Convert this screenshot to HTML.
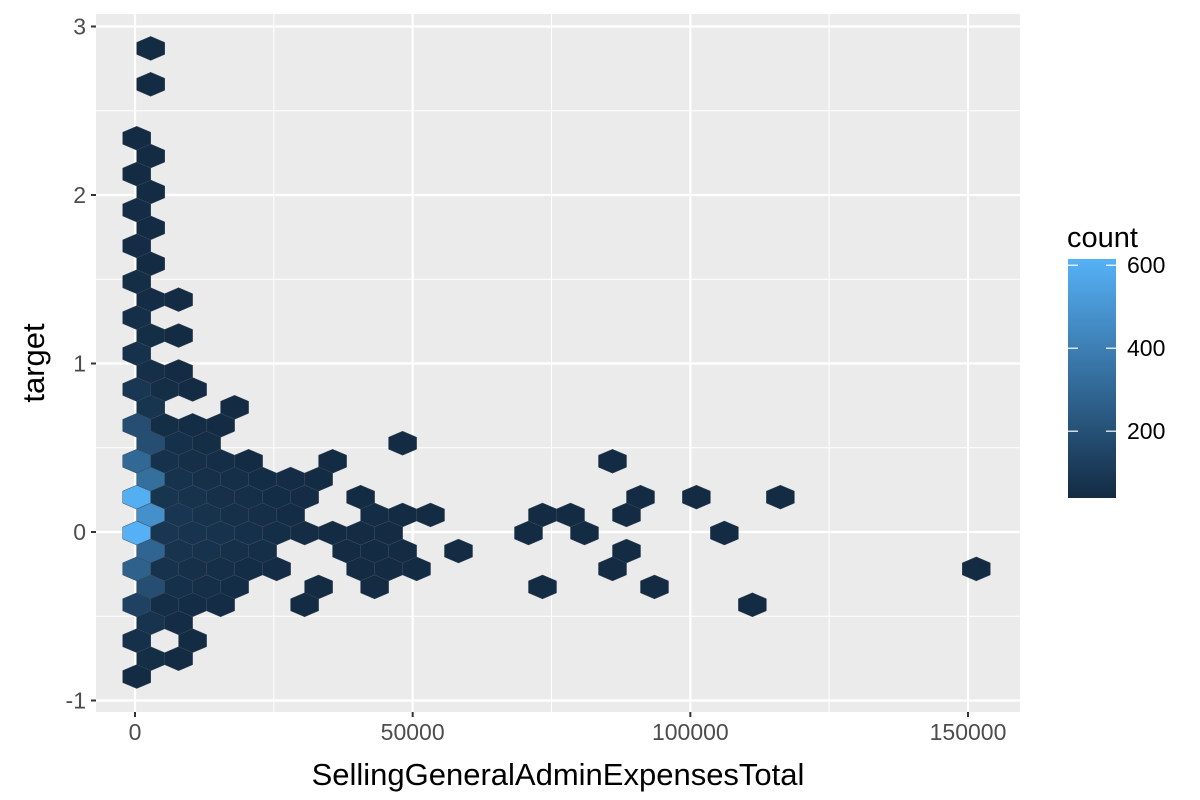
<!DOCTYPE html>
<html><head><meta charset="utf-8"><style>
html,body{margin:0;padding:0;background:#fff;}
svg{display:block;font-family:"Liberation Sans",Arial,sans-serif;}
</style></head><body>
<svg id="chart" width="1200" height="800">
<defs><linearGradient id="lg" x1="0" y1="1" x2="0" y2="0"><stop offset="0" stop-color="#132B43"/><stop offset="1" stop-color="#56B1F7"/></linearGradient></defs>
<rect x="96" y="14" width="924" height="698" fill="#EBEBEB"/>
<g id="grid"></g><g id="hexes"></g><g id="axes"></g>
<text x="558" y="785" text-anchor="middle" font-size="31" fill="#000">SellingGeneralAdminExpensesTotal</text>
<text transform="translate(44,363) rotate(-90)" text-anchor="middle" font-size="31" fill="#000">target</text>
<g>
<text x="1067" y="247" font-size="29" fill="#000">count</text>
<rect x="1068" y="259" width="48" height="239" fill="url(#lg)"/>
<g id="legend-ticks"></g>
</g>
</svg>
<script>
const rowY=[2.870,2.657,2.337,2.231,2.124,2.018,1.911,1.805,1.698,1.592,1.485,1.379,1.272,1.166,1.059,0.953,0.846,0.740,0.633,0.527,0.420,0.314,0.207,0.101,-0.006,-0.113,-0.219,-0.326,-0.432,-0.539,-0.645,-0.752,-0.858];
const rowXs=[[2820],[2820],[300],[2820],[300],[2820],[300],[2820],[300],[2820],[300],[2820,7860],[300],[2820,7860],[300],[2820,7860],[300,5340,10380],[2820,17940],[300,5340,10380,15420],[2820,7860,12900,48180],[300,5340,10380,15420,20460,35580,85980],[2820,7860,12900,17940,22980,28020,33060],[300,5340,10380,15420,20460,25500,30540,40620,91020,101100,116220],[2820,7860,12900,17940,22980,28020,43140,48180,53220,73380,78420,88500],[300,5340,10380,15420,20460,25500,30540,35580,40620,45660,70860,80940,106140],[2820,7860,12900,17940,22980,38100,43140,48180,58260,88500],[300,5340,10380,15420,20460,25500,40620,45660,50700,85980,151500],[2820,7860,12900,17940,33060,43140,73380,93540],[300,5340,10380,15420,30540,111180],[2820,7860],[300,10380],[2820,7860],[300]];
const rowCounts=[[40],[40],[42],[40],[42],[42],[45],[42],[45],[42],[50],[45,40],[55],[50,40],[65],[55,40],[90,50,42],[80,40],[190,50,48,42],[190,60,50,40],[300,65,58,52,42,40,40],[330,70,62,55,48,44,40],[600,80,70,62,55,48,44,40,40,40,40],[470,85,70,62,55,48,44,42,40,40,40,40],[610,85,75,68,60,52,46,42,42,40,40,40,40],[290,75,68,62,55,42,42,40,40,40],[270,68,62,55,48,44,42,40,40,40,40],[190,60,55,48,40,40,40,40],[140,52,48,44,40,40],[75,45],[60,42],[50,42],[42]];
const xTicks=[0,50000,100000,150000];
const xMinor=[25000,75000,125000];
const yTicks=[-1,0,1,2,3];
const yMinor=[-0.5,0.5,1.5,2.5];
const legendTicks=[200,400,600];
const countDomain=[39,615];
const binW=5040, binH=0.1065;
const NS="http://www.w3.org/2000/svg";
const X=v=>135+(v/150000)*833;
const Y=v=>532-v*168.5;
const L=v=>498-(v-countDomain[0])/(countDomain[1]-countDomain[0])*239;
function col(c){let t=Math.max(0,Math.min(1,(c-countDomain[0])/(countDomain[1]-countDomain[0])));
const a=[0x13,0x2B,0x43],b=[0x56,0xB1,0xF7];return `rgb(${a.map((v,i)=>Math.round(v+(b[i]-v)*t)).join(',')})`;}
function mk(tag,attrs,parent){const e=document.createElementNS(NS,tag);for(const k in attrs)e.setAttribute(k,attrs[k]);parent.appendChild(e);return e;}
const grid=document.getElementById('grid');
xMinor.forEach(v=>{const e=mk('line',{x1:X(v),x2:X(v),y1:14,y2:712,stroke:'#fff','stroke-width':1},grid);

});
yMinor.forEach(v=>{const e=mk('line',{x1:96,x2:1020,y1:Y(v),y2:Y(v),stroke:'#fff','stroke-width':1},grid);

});
xTicks.forEach(v=>{const e=mk('line',{x1:X(v),x2:X(v),y1:14,y2:712,stroke:'#fff','stroke-width':2.2},grid);

});
yTicks.forEach(v=>{const e=mk('line',{x1:96,x2:1020,y1:Y(v),y2:Y(v),stroke:'#fff','stroke-width':2.2},grid);

});
const hg=document.getElementById('hexes');
const hw=binW/2, hh=binH*2/3;
rowY.forEach((y,r)=>{rowXs[r].forEach((x,i)=>{
const cx=X(x),cy=Y(y),dx=X(x+hw)-X(x),dy=Y(y)-Y(y+hh);
const pts=[[0,-dy],[dx,-dy/2],[dx,dy/2],[0,dy],[-dx,dy/2],[-dx,-dy/2]].map(p=>(cx+p[0]).toFixed(1)+','+(cy+p[1]).toFixed(1)).join(' ');
const e=mk('polygon',{points:pts,fill:col(rowCounts[r][i]),stroke:'#3a4a5a','stroke-width':0.5},hg);

});});
const ax=document.getElementById('axes');
xTicks.forEach(v=>{mk('line',{x1:X(v),x2:X(v),y1:712,y2:717,stroke:'#333','stroke-width':2},ax);
const t=mk('text',{x:X(v),y:740,'text-anchor':'middle','font-size':23,fill:'#4D4D4D'},ax);t.textContent=v;

});
yTicks.forEach(v=>{mk('line',{x1:91,x2:96,y1:Y(v),y2:Y(v),stroke:'#333','stroke-width':2},ax);
const t=mk('text',{x:86,y:Y(v)+8,'text-anchor':'end','font-size':23,fill:'#4D4D4D'},ax);t.textContent=v;

});
const lt=document.getElementById('legend-ticks');
legendTicks.forEach(v=>{mk('line',{x1:1068,x2:1078,y1:L(v),y2:L(v),stroke:'#fff','stroke-width':1.2},lt);
mk('line',{x1:1106,x2:1116,y1:L(v),y2:L(v),stroke:'#fff','stroke-width':1.2},lt);
const t=mk('text',{x:1127,y:L(v)+8,'font-size':23,fill:'#000'},lt);t.textContent=v;

});
</script>
</body></html>
